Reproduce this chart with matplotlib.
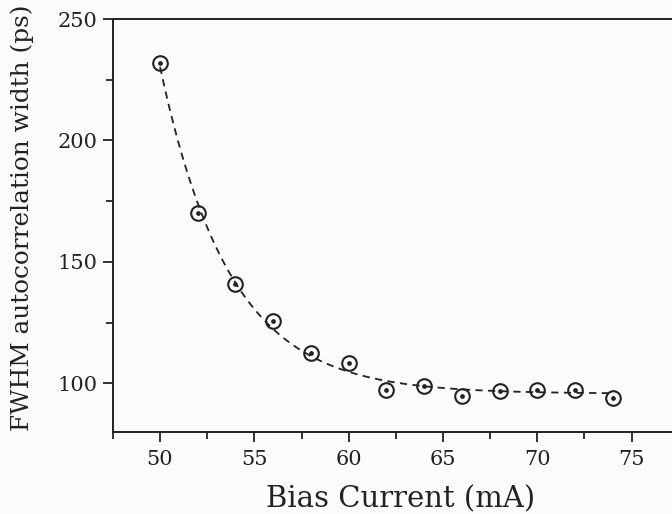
import numpy as np
import matplotlib
matplotlib.use("Agg")
import matplotlib.pyplot as plt
from matplotlib.ticker import MultipleLocator

# bias current (mA) and measured FWHM autocorrelation width (ps)
bias_ma = [50, 52, 54, 56, 58, 60, 62, 64, 66, 68, 70, 72, 74]
fwhm_ps = [232, 170, 141, 125.5, 112.5, 108.5, 97.5, 99, 95, 97, 97.5, 97.5, 94]

x_label = "Bias Current (mA)"
y_label = "FWHM autocorrelation width (ps)"


def exp_fit(x, y):
    # y = a + b*exp(-(x - x0)/tau), tau picked by grid search, a/b by least squares
    x = np.asarray(x, float)
    y = np.asarray(y, float)
    best = None
    for tau in np.linspace(0.5, 20, 2000):
        e = np.exp(-(x - x[0]) / tau)
        A = np.column_stack([np.ones_like(e), e])
        coef, *_ = np.linalg.lstsq(A, y, rcond=None)
        err = np.sum((A @ coef - y) ** 2)
        if best is None or err < best[0]:
            best = (err, tau, coef)
    _, tau, (a, b) = best
    return lambda t: a + b * np.exp(-(t - x[0]) / tau)


plt.rcParams["font.family"] = ["DejaVu Serif"]
ink = "#222222"

fig = plt.figure(figsize=(6.72, 5.14), dpi=100)
fig.patch.set_facecolor("#fbfbf9")
ax = fig.add_axes([0.168, 0.1595, 0.842, 0.8035])
ax.set_facecolor("#fbfbf9")

f = exp_fit(bias_ma, fwhm_ps)
xs = np.linspace(bias_ma[0], bias_ma[-1], 300)
ax.plot(xs, f(xs), ls=(0, (4, 3)), color=ink, lw=1.3)

ax.plot(bias_ma, fwhm_ps, "o", ms=10.5, mfc="none", mec=ink, mew=1.5)
ax.plot(bias_ma, fwhm_ps, "o", ms=2.4, color=ink)

ax.set_xlim(47.5, 77.5)
ax.set_ylim(80, 250)
ax.xaxis.set_major_locator(MultipleLocator(5))
ax.xaxis.set_minor_locator(MultipleLocator(2.5))
ax.yaxis.set_major_locator(MultipleLocator(50))
ax.yaxis.set_minor_locator(MultipleLocator(25))

ax.spines["right"].set_visible(False)
for s in ax.spines.values():
    s.set_linewidth(1.4)
    s.set_color(ink)

ax.tick_params(which="both", direction="out", color=ink, width=1.3,
               top=False, right=False, labelsize=15, labelcolor=ink)
ax.tick_params(which="major", length=7)
ax.tick_params(which="minor", length=5)
ax.tick_params(axis="x", which="major", pad=6)
ax.tick_params(axis="y", which="major", pad=4)

ax.set_xlabel(x_label, fontsize=21, color=ink)
ax.set_ylabel(y_label, fontsize=17.8, color=ink)
ax.xaxis.set_label_coords(0.508, -0.128)
ax.yaxis.set_label_coords(-0.14, 0.52)

fig.savefig("out.png", dpi=100, facecolor=fig.get_facecolor())
